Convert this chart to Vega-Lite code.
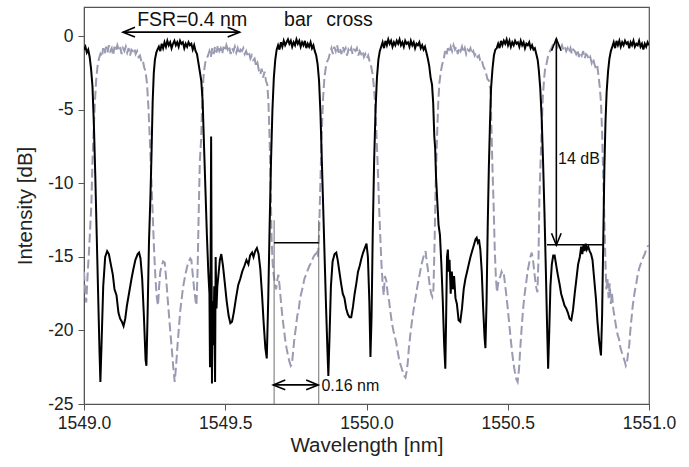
{
  "$schema": "https://vega.github.io/schema/vega-lite/v6.json",
  "width": 565,
  "height": 397,
  "autosize": {"type": "none"},
  "padding": {"left": 84, "top": 7, "right": 40, "bottom": 63},
  "background": "white",
  "config": {
    "font": "Liberation Sans",
    "view": {"stroke": "#555", "strokeWidth": 1.2},
    "axis": {"grid": false, "domainColor": "#555", "tickColor": "#555", "tickSize": 6, "labelFontSize": 17.5, "titleFontSize": 20.5, "labelColor": "#222", "titleColor": "#222", "titleFontWeight": "normal", "labelFont": "Liberation Sans", "titleFont": "Liberation Sans"}
  },
  "datasets": {
    "bar": [
      {"wl":1549.000,"dB":-0.9},{"wl":1549.005,"dB":-0.7},{"wl":1549.010,"dB":-1.1},{"wl":1549.015,"dB":-0.9},{"wl":1549.020,"dB":-1.4},{"wl":1549.025,"dB":-2.2},{"wl":1549.030,"dB":-3.4},{"wl":1549.035,"dB":-6},{"wl":1549.040,"dB":-9.5},{"wl":1549.045,"dB":-13.5},{"wl":1549.050,"dB":-17.5},{"wl":1549.055,"dB":-21.5},{"wl":1549.058,"dB":-23.5},{"wl":1549.062,"dB":-21},{"wl":1549.068,"dB":-17},{"wl":1549.075,"dB":-15},{"wl":1549.082,"dB":-14.6},{"wl":1549.088,"dB":-14.8},{"wl":1549.095,"dB":-15.5},{"wl":1549.102,"dB":-16.2},{"wl":1549.108,"dB":-17.2},{"wl":1549.115,"dB":-17.6},{"wl":1549.122,"dB":-18.8},{"wl":1549.128,"dB":-19.2},{"wl":1549.134,"dB":-19.4},{"wl":1549.140,"dB":-19.7},{"wl":1549.146,"dB":-19.2},{"wl":1549.152,"dB":-18.3},{"wl":1549.160,"dB":-17.4},{"wl":1549.168,"dB":-16.5},{"wl":1549.175,"dB":-15.8},{"wl":1549.182,"dB":-15.2},{"wl":1549.190,"dB":-14.8},{"wl":1549.195,"dB":-14.7},{"wl":1549.200,"dB":-15.1},{"wl":1549.206,"dB":-16.5},{"wl":1549.212,"dB":-19},{"wl":1549.218,"dB":-22},{"wl":1549.221,"dB":-22.4},{"wl":1549.225,"dB":-19},{"wl":1549.230,"dB":-14},{"wl":1549.235,"dB":-11},{"wl":1549.239,"dB":-8},{"wl":1549.243,"dB":-4.5},{"wl":1549.247,"dB":-2.5},{"wl":1549.251,"dB":-1.6},{"wl":1549.256,"dB":-1.1},
      {"wl":1549.260,"dB":-0.9},{"wl":1549.265,"dB":-0.7},{"wl":1549.270,"dB":-1.0},{"wl":1549.275,"dB":-0.5},{"wl":1549.280,"dB":-0.8},{"wl":1549.285,"dB":-0.4},{"wl":1549.290,"dB":-0.7},{"wl":1549.295,"dB":-0.3},{"wl":1549.300,"dB":-0.6},{"wl":1549.305,"dB":-0.4},{"wl":1549.310,"dB":-0.8},{"wl":1549.315,"dB":-0.5},{"wl":1549.320,"dB":-0.3},{"wl":1549.325,"dB":-0.6},{"wl":1549.330,"dB":-0.4},{"wl":1549.335,"dB":-0.7},{"wl":1549.340,"dB":-0.3},{"wl":1549.345,"dB":-0.5},{"wl":1549.350,"dB":-0.4},{"wl":1549.355,"dB":-0.8},{"wl":1549.360,"dB":-0.5},{"wl":1549.365,"dB":-0.7},{"wl":1549.370,"dB":-0.4},{"wl":1549.375,"dB":-0.6},{"wl":1549.380,"dB":-0.5},{"wl":1549.385,"dB":-0.9},{"wl":1549.390,"dB":-0.6},{"wl":1549.395,"dB":-1.0},{"wl":1549.400,"dB":-1.2},{"wl":1549.405,"dB":-1.8},{"wl":1549.410,"dB":-2.4},{"wl":1549.415,"dB":-3.0},{"wl":1549.420,"dB":-4.4},{"wl":1549.425,"dB":-7.5},{"wl":1549.430,"dB":-10.5},{"wl":1549.435,"dB":-13.5},{"wl":1549.440,"dB":-16},{"wl":1549.444,"dB":-17.5},{"wl":1549.446,"dB":-22.5},{"wl":1549.448,"dB":-16},{"wl":1549.450,"dB":-6.8},{"wl":1549.451,"dB":-12},{"wl":1549.453,"dB":-23.6},{"wl":1549.455,"dB":-18},{"wl":1549.458,"dB":-21},{"wl":1549.461,"dB":-17},{"wl":1549.464,"dB":-23.5},{"wl":1549.466,"dB":-15},{"wl":1549.469,"dB":-18.5},{"wl":1549.472,"dB":-17},{"wl":1549.476,"dB":-16.2},{"wl":1549.481,"dB":-15.2},{"wl":1549.486,"dB":-14.8},{"wl":1549.492,"dB":-15.6},{"wl":1549.498,"dB":-16.7},{"wl":1549.505,"dB":-18},{"wl":1549.512,"dB":-19},{"wl":1549.518,"dB":-19.5},{"wl":1549.524,"dB":-19.4},{"wl":1549.530,"dB":-18.8},{"wl":1549.538,"dB":-17.8},{"wl":1549.546,"dB":-16.9},{"wl":1549.553,"dB":-16.5},{"wl":1549.560,"dB":-16},{"wl":1549.568,"dB":-15.6},{"wl":1549.575,"dB":-15.2},{"wl":1549.582,"dB":-15.5},{"wl":1549.588,"dB":-14.9},{"wl":1549.595,"dB":-14.7},{"wl":1549.600,"dB":-15.0},{"wl":1549.606,"dB":-14.6},{"wl":1549.612,"dB":-14.4},{"wl":1549.618,"dB":-14.8},{"wl":1549.624,"dB":-15.8},{"wl":1549.630,"dB":-17.5},{"wl":1549.636,"dB":-19.5},{"wl":1549.642,"dB":-21.2},{"wl":1549.647,"dB":-21.9},{"wl":1549.652,"dB":-18},{"wl":1549.657,"dB":-13},{"wl":1549.662,"dB":-8.5},{"wl":1549.667,"dB":-5},{"wl":1549.672,"dB":-2.8},{"wl":1549.677,"dB":-1.6},{"wl":1549.682,"dB":-0.9},
      {"wl":1549.687,"dB":-0.6},{"wl":1549.692,"dB":-0.9},{"wl":1549.697,"dB":-0.4},{"wl":1549.702,"dB":-0.7},{"wl":1549.707,"dB":-0.3},{"wl":1549.712,"dB":-0.6},{"wl":1549.717,"dB":-0.4},{"wl":1549.722,"dB":-0.2},{"wl":1549.727,"dB":-0.5},{"wl":1549.732,"dB":-0.3},{"wl":1549.737,"dB":-0.7},{"wl":1549.742,"dB":-0.4},{"wl":1549.747,"dB":-0.6},{"wl":1549.752,"dB":-0.2},{"wl":1549.757,"dB":-0.5},{"wl":1549.762,"dB":-0.3},{"wl":1549.767,"dB":-0.7},{"wl":1549.772,"dB":-0.4},{"wl":1549.777,"dB":-0.6},{"wl":1549.782,"dB":-0.3},{"wl":1549.787,"dB":-0.8},{"wl":1549.792,"dB":-0.5},{"wl":1549.797,"dB":-0.7},{"wl":1549.802,"dB":-0.4},{"wl":1549.807,"dB":-0.8},{"wl":1549.812,"dB":-0.6},{"wl":1549.817,"dB":-1.0},{"wl":1549.822,"dB":-1.3},{"wl":1549.827,"dB":-1.9},{"wl":1549.832,"dB":-3},{"wl":1549.837,"dB":-5.2},{"wl":1549.842,"dB":-8.5},{"wl":1549.847,"dB":-11.8},{"wl":1549.852,"dB":-15.2},{"wl":1549.857,"dB":-18.5},{"wl":1549.862,"dB":-21.5},{"wl":1549.865,"dB":-23.1},{"wl":1549.869,"dB":-20.5},{"wl":1549.874,"dB":-17},{"wl":1549.880,"dB":-15.3},{"wl":1549.887,"dB":-14.8},{"wl":1549.893,"dB":-14.7},{"wl":1549.898,"dB":-15.2},{"wl":1549.904,"dB":-16},{"wl":1549.910,"dB":-16.8},{"wl":1549.916,"dB":-17.5},{"wl":1549.922,"dB":-17.8},{"wl":1549.928,"dB":-18.5},{"wl":1549.934,"dB":-18.9},{"wl":1549.940,"dB":-19.1},{"wl":1549.946,"dB":-19.1},{"wl":1549.952,"dB":-18.4},{"wl":1549.958,"dB":-17.5},{"wl":1549.964,"dB":-16.8},{"wl":1549.970,"dB":-16},{"wl":1549.976,"dB":-15.6},{"wl":1549.982,"dB":-15.1},{"wl":1549.988,"dB":-14.7},{"wl":1549.994,"dB":-14.4},{"wl":1550.000,"dB":-14.1},{"wl":1550.005,"dB":-15},{"wl":1550.010,"dB":-18},{"wl":1550.014,"dB":-21.8},{"wl":1550.018,"dB":-19},{"wl":1550.022,"dB":-13.5},{"wl":1550.027,"dB":-8.5},{"wl":1550.032,"dB":-5},{"wl":1550.037,"dB":-2.8},{"wl":1550.042,"dB":-1.6},{"wl":1550.047,"dB":-1.0},
      {"wl":1550.052,"dB":-0.7},{"wl":1550.057,"dB":-0.4},{"wl":1550.062,"dB":-0.8},{"wl":1550.067,"dB":-0.3},{"wl":1550.072,"dB":-0.6},{"wl":1550.077,"dB":-0.2},{"wl":1550.082,"dB":-0.5},{"wl":1550.087,"dB":-0.3},{"wl":1550.092,"dB":-0.7},{"wl":1550.097,"dB":-0.4},{"wl":1550.102,"dB":-0.6},{"wl":1550.107,"dB":-0.3},{"wl":1550.112,"dB":-0.5},{"wl":1550.117,"dB":-0.2},{"wl":1550.122,"dB":-0.6},{"wl":1550.127,"dB":-0.4},{"wl":1550.132,"dB":-0.7},{"wl":1550.137,"dB":-0.3},{"wl":1550.142,"dB":-0.5},{"wl":1550.147,"dB":-0.4},{"wl":1550.152,"dB":-0.7},{"wl":1550.157,"dB":-0.3},{"wl":1550.162,"dB":-0.6},{"wl":1550.167,"dB":-0.4},{"wl":1550.172,"dB":-0.8},{"wl":1550.177,"dB":-0.5},{"wl":1550.182,"dB":-0.6},{"wl":1550.187,"dB":-0.4},{"wl":1550.192,"dB":-0.8},{"wl":1550.197,"dB":-0.6},{"wl":1550.202,"dB":-0.9},{"wl":1550.207,"dB":-0.7},{"wl":1550.212,"dB":-1.1},{"wl":1550.217,"dB":-1.5},{"wl":1550.222,"dB":-2.0},{"wl":1550.227,"dB":-2.8},{"wl":1550.232,"dB":-3.3},{"wl":1550.236,"dB":-4.5},{"wl":1550.240,"dB":-6.8},{"wl":1550.243,"dB":-7.6},{"wl":1550.246,"dB":-9.5},{"wl":1550.250,"dB":-11},{"wl":1550.255,"dB":-12.8},{"wl":1550.260,"dB":-13.5},{"wl":1550.265,"dB":-15.5},{"wl":1550.270,"dB":-18},{"wl":1550.275,"dB":-21},{"wl":1550.279,"dB":-22.6},{"wl":1550.282,"dB":-19},{"wl":1550.285,"dB":-15},{"wl":1550.288,"dB":-14.5},{"wl":1550.291,"dB":-16},{"wl":1550.294,"dB":-15.2},{"wl":1550.298,"dB":-17.5},{"wl":1550.302,"dB":-16},{"wl":1550.306,"dB":-17.2},{"wl":1550.310,"dB":-16.3},{"wl":1550.315,"dB":-17.8},{"wl":1550.320,"dB":-18.2},{"wl":1550.326,"dB":-19.3},{"wl":1550.332,"dB":-19.4},{"wl":1550.338,"dB":-18.5},{"wl":1550.344,"dB":-17.2},{"wl":1550.350,"dB":-16.5},{"wl":1550.356,"dB":-16},{"wl":1550.362,"dB":-15.5},{"wl":1550.368,"dB":-15},{"wl":1550.374,"dB":-14.6},{"wl":1550.380,"dB":-14.2},{"wl":1550.386,"dB":-13.8},{"wl":1550.390,"dB":-13.7},{"wl":1550.394,"dB":-14},{"wl":1550.398,"dB":-13.8},{"wl":1550.403,"dB":-14.5},{"wl":1550.408,"dB":-16},{"wl":1550.413,"dB":-18.5},{"wl":1550.418,"dB":-20.5},{"wl":1550.421,"dB":-21.2},{"wl":1550.425,"dB":-18},{"wl":1550.429,"dB":-13},{"wl":1550.433,"dB":-9},{"wl":1550.437,"dB":-6},{"wl":1550.441,"dB":-3.5},{"wl":1550.446,"dB":-2.2},{"wl":1550.451,"dB":-1.3},{"wl":1550.456,"dB":-0.9},{"wl":1550.461,"dB":-0.8},
      {"wl":1550.466,"dB":-0.5},{"wl":1550.471,"dB":-0.8},{"wl":1550.476,"dB":-0.3},{"wl":1550.481,"dB":-0.6},{"wl":1550.486,"dB":-0.3},{"wl":1550.491,"dB":-0.5},{"wl":1550.496,"dB":-0.2},{"wl":1550.501,"dB":-0.6},{"wl":1550.506,"dB":-0.3},{"wl":1550.511,"dB":-0.7},{"wl":1550.516,"dB":-0.4},{"wl":1550.521,"dB":-0.6},{"wl":1550.526,"dB":-0.3},{"wl":1550.531,"dB":-0.5},{"wl":1550.536,"dB":-0.4},{"wl":1550.541,"dB":-0.7},{"wl":1550.546,"dB":-0.3},{"wl":1550.551,"dB":-0.6},{"wl":1550.556,"dB":-0.4},{"wl":1550.561,"dB":-0.8},{"wl":1550.566,"dB":-0.5},{"wl":1550.571,"dB":-0.6},{"wl":1550.576,"dB":-0.4},{"wl":1550.581,"dB":-0.8},{"wl":1550.586,"dB":-0.6},{"wl":1550.591,"dB":-0.9},{"wl":1550.596,"dB":-0.8},{"wl":1550.601,"dB":-1.2},{"wl":1550.606,"dB":-1.6},{"wl":1550.610,"dB":-2.3},{"wl":1550.615,"dB":-3.5},{"wl":1550.620,"dB":-5.5},{"wl":1550.625,"dB":-8.5},{"wl":1550.630,"dB":-12},{"wl":1550.635,"dB":-16},{"wl":1550.639,"dB":-19.5},{"wl":1550.643,"dB":-22.6},{"wl":1550.647,"dB":-20},{"wl":1550.651,"dB":-17},{"wl":1550.656,"dB":-15.5},{"wl":1550.661,"dB":-14.9},{"wl":1550.666,"dB":-14.9},{"wl":1550.671,"dB":-15.5},{"wl":1550.677,"dB":-16.2},{"wl":1550.683,"dB":-16.8},{"wl":1550.689,"dB":-17.5},{"wl":1550.695,"dB":-17.9},{"wl":1550.701,"dB":-18.3},{"wl":1550.707,"dB":-18.5},{"wl":1550.713,"dB":-18.8},{"wl":1550.719,"dB":-19.2},{"wl":1550.725,"dB":-19.3},{"wl":1550.731,"dB":-18.6},{"wl":1550.737,"dB":-17.5},{"wl":1550.743,"dB":-16.5},{"wl":1550.749,"dB":-15.5},{"wl":1550.755,"dB":-15},{"wl":1550.760,"dB":-14.3},{"wl":1550.764,"dB":-14.8},{"wl":1550.768,"dB":-14.2},{"wl":1550.772,"dB":-14.6},{"wl":1550.776,"dB":-14.1},{"wl":1550.780,"dB":-14.5},{"wl":1550.785,"dB":-14.3},{"wl":1550.790,"dB":-14.6},{"wl":1550.795,"dB":-14.8},{"wl":1550.800,"dB":-15.2},{"wl":1550.806,"dB":-16.5},{"wl":1550.812,"dB":-17.8},{"wl":1550.818,"dB":-19.5},{"wl":1550.824,"dB":-20.8},{"wl":1550.830,"dB":-21.7},{"wl":1550.834,"dB":-19},{"wl":1550.838,"dB":-14},{"wl":1550.842,"dB":-9},{"wl":1550.846,"dB":-5.8},{"wl":1550.850,"dB":-3.8},{"wl":1550.855,"dB":-2.4},{"wl":1550.860,"dB":-1.5},{"wl":1550.865,"dB":-1.0},
      {"wl":1550.870,"dB":-0.7},{"wl":1550.875,"dB":-0.4},{"wl":1550.880,"dB":-0.8},{"wl":1550.885,"dB":-0.3},{"wl":1550.890,"dB":-0.6},{"wl":1550.895,"dB":-0.3},{"wl":1550.900,"dB":-0.7},{"wl":1550.905,"dB":-0.4},{"wl":1550.910,"dB":-0.6},{"wl":1550.915,"dB":-0.3},{"wl":1550.920,"dB":-0.5},{"wl":1550.925,"dB":-0.4},{"wl":1550.930,"dB":-0.8},{"wl":1550.935,"dB":-0.4},{"wl":1550.940,"dB":-0.6},{"wl":1550.945,"dB":-0.3},{"wl":1550.950,"dB":-0.7},{"wl":1550.955,"dB":-0.5},{"wl":1550.960,"dB":-0.6},{"wl":1550.965,"dB":-0.3},{"wl":1550.970,"dB":-0.7},{"wl":1550.975,"dB":-0.5},{"wl":1550.980,"dB":-0.9},{"wl":1550.985,"dB":-0.5},{"wl":1550.990,"dB":-0.7},{"wl":1550.995,"dB":-0.4},{"wl":1551.000,"dB":-0.6}
    ],
    "cross": [
      {"wl":1549.000,"dB":-16.0},{"wl":1549.004,"dB":-17.2},{"wl":1549.008,"dB":-18.1},{"wl":1549.012,"dB":-16.5},{"wl":1549.018,"dB":-14.5},{"wl":1549.022,"dB":-13},{"wl":1549.026,"dB":-11.5},{"wl":1549.030,"dB":-8.5},{"wl":1549.034,"dB":-6.5},{"wl":1549.038,"dB":-4.7},{"wl":1549.043,"dB":-3.0},{"wl":1549.048,"dB":-2.0},{"wl":1549.053,"dB":-1.5},{"wl":1549.058,"dB":-1.2},
      {"wl":1549.063,"dB":-1.4},{"wl":1549.068,"dB":-0.8},{"wl":1549.073,"dB":-1.2},{"wl":1549.078,"dB":-0.7},{"wl":1549.083,"dB":-1.1},{"wl":1549.088,"dB":-0.6},{"wl":1549.093,"dB":-1.0},{"wl":1549.098,"dB":-0.8},{"wl":1549.103,"dB":-1.3},{"wl":1549.108,"dB":-0.7},{"wl":1549.113,"dB":-1.0},{"wl":1549.118,"dB":-0.6},{"wl":1549.123,"dB":-0.9},{"wl":1549.128,"dB":-0.7},{"wl":1549.133,"dB":-1.2},{"wl":1549.138,"dB":-0.8},{"wl":1549.143,"dB":-1.0},{"wl":1549.148,"dB":-0.7},{"wl":1549.153,"dB":-1.1},{"wl":1549.158,"dB":-0.8},{"wl":1549.163,"dB":-1.3},{"wl":1549.168,"dB":-0.9},{"wl":1549.173,"dB":-1.0},{"wl":1549.178,"dB":-0.8},{"wl":1549.183,"dB":-1.2},{"wl":1549.188,"dB":-1.0},{"wl":1549.193,"dB":-1.4},{"wl":1549.198,"dB":-1.3},{"wl":1549.203,"dB":-1.7},{"wl":1549.208,"dB":-1.6},{"wl":1549.213,"dB":-2.1},{"wl":1549.218,"dB":-2.4},{"wl":1549.223,"dB":-3.2},{"wl":1549.228,"dB":-4.8},{"wl":1549.233,"dB":-7},{"wl":1549.238,"dB":-9.5},{"wl":1549.243,"dB":-12},{"wl":1549.248,"dB":-14.5},{"wl":1549.253,"dB":-16.5},{"wl":1549.258,"dB":-17.8},{"wl":1549.262,"dB":-18.3},{"wl":1549.266,"dB":-17},{"wl":1549.270,"dB":-16},{"wl":1549.275,"dB":-15.6},{"wl":1549.280,"dB":-15.3},{"wl":1549.286,"dB":-15.4},{"wl":1549.291,"dB":-16.5},{"wl":1549.296,"dB":-17.8},{"wl":1549.301,"dB":-19},{"wl":1549.306,"dB":-20.2},{"wl":1549.311,"dB":-21.3},{"wl":1549.316,"dB":-22.5},{"wl":1549.321,"dB":-23.5},{"wl":1549.326,"dB":-22.4},{"wl":1549.331,"dB":-21},{"wl":1549.336,"dB":-19.8},{"wl":1549.341,"dB":-18.6},{"wl":1549.346,"dB":-17.8},{"wl":1549.351,"dB":-17},{"wl":1549.356,"dB":-16.5},{"wl":1549.361,"dB":-16},{"wl":1549.366,"dB":-15.6},{"wl":1549.371,"dB":-15.3},{"wl":1549.376,"dB":-15.1},{"wl":1549.380,"dB":-15.2},{"wl":1549.385,"dB":-16.2},{"wl":1549.390,"dB":-17.2},{"wl":1549.395,"dB":-18},{"wl":1549.398,"dB":-18.3},{"wl":1549.402,"dB":-16},{"wl":1549.406,"dB":-12},{"wl":1549.410,"dB":-8.5},{"wl":1549.415,"dB":-6.9},{"wl":1549.419,"dB":-4.0},{"wl":1549.424,"dB":-2.5},{"wl":1549.429,"dB":-1.8},{"wl":1549.434,"dB":-1.5},{"wl":1549.439,"dB":-1.3},
      {"wl":1549.444,"dB":-1.0},{"wl":1549.449,"dB":-1.4},{"wl":1549.454,"dB":-0.8},{"wl":1549.459,"dB":-1.2},{"wl":1549.464,"dB":-0.7},{"wl":1549.469,"dB":-1.1},{"wl":1549.474,"dB":-0.6},{"wl":1549.479,"dB":-1.0},{"wl":1549.484,"dB":-0.8},{"wl":1549.489,"dB":-1.2},{"wl":1549.494,"dB":-0.7},{"wl":1549.499,"dB":-1.0},{"wl":1549.504,"dB":-0.6},{"wl":1549.509,"dB":-0.9},{"wl":1549.514,"dB":-0.7},{"wl":1549.519,"dB":-1.2},{"wl":1549.524,"dB":-0.8},{"wl":1549.529,"dB":-1.0},{"wl":1549.534,"dB":-0.7},{"wl":1549.539,"dB":-1.1},{"wl":1549.544,"dB":-0.8},{"wl":1549.549,"dB":-1.2},{"wl":1549.554,"dB":-0.9},{"wl":1549.559,"dB":-1.0},{"wl":1549.564,"dB":-0.8},{"wl":1549.569,"dB":-1.2},{"wl":1549.574,"dB":-1.0},{"wl":1549.579,"dB":-1.3},{"wl":1549.584,"dB":-1.1},{"wl":1549.589,"dB":-1.5},{"wl":1549.594,"dB":-1.3},{"wl":1549.599,"dB":-1.6},{"wl":1549.604,"dB":-1.5},{"wl":1549.609,"dB":-2.0},{"wl":1549.614,"dB":-1.8},{"wl":1549.619,"dB":-2.3},{"wl":1549.624,"dB":-2.6},{"wl":1549.629,"dB":-2.2},{"wl":1549.634,"dB":-2.8},{"wl":1549.639,"dB":-2.4},{"wl":1549.644,"dB":-3.0},{"wl":1549.649,"dB":-3.3},{"wl":1549.653,"dB":-4.5},{"wl":1549.657,"dB":-7},{"wl":1549.661,"dB":-10.5},{"wl":1549.664,"dB":-13.7},{"wl":1549.668,"dB":-15.5},{"wl":1549.672,"dB":-16.3},{"wl":1549.676,"dB":-16.8},{"wl":1549.680,"dB":-17.2},{"wl":1549.684,"dB":-16.6},{"wl":1549.688,"dB":-16.2},{"wl":1549.692,"dB":-16.9},{"wl":1549.697,"dB":-18},{"wl":1549.702,"dB":-19},{"wl":1549.707,"dB":-19.8},{"wl":1549.712,"dB":-20.6},{"wl":1549.717,"dB":-21.2},{"wl":1549.722,"dB":-21.7},{"wl":1549.727,"dB":-22.1},{"wl":1549.732,"dB":-22.4},{"wl":1549.736,"dB":-22.3},{"wl":1549.740,"dB":-21.5},{"wl":1549.745,"dB":-20.5},{"wl":1549.750,"dB":-19.8},{"wl":1549.755,"dB":-19},{"wl":1549.760,"dB":-18.6},{"wl":1549.765,"dB":-17.8},{"wl":1549.770,"dB":-17.4},{"wl":1549.775,"dB":-17},{"wl":1549.780,"dB":-16.5},{"wl":1549.786,"dB":-16.2},{"wl":1549.792,"dB":-15.9},{"wl":1549.798,"dB":-15.6},{"wl":1549.804,"dB":-15.4},{"wl":1549.810,"dB":-15.1},{"wl":1549.815,"dB":-14.9},{"wl":1549.820,"dB":-14.8},{"wl":1549.824,"dB":-14.7},{"wl":1549.828,"dB":-15.0},{"wl":1549.832,"dB":-13.5},{"wl":1549.836,"dB":-10.5},{"wl":1549.841,"dB":-6.9},{"wl":1549.846,"dB":-4.3},{"wl":1549.851,"dB":-2.8},{"wl":1549.856,"dB":-2.1},{"wl":1549.861,"dB":-1.7},{"wl":1549.866,"dB":-1.5},
      {"wl":1549.871,"dB":-1.1},{"wl":1549.876,"dB":-0.8},{"wl":1549.881,"dB":-1.2},{"wl":1549.886,"dB":-0.7},{"wl":1549.891,"dB":-1.0},{"wl":1549.896,"dB":-0.6},{"wl":1549.901,"dB":-1.1},{"wl":1549.906,"dB":-0.8},{"wl":1549.911,"dB":-1.2},{"wl":1549.916,"dB":-0.7},{"wl":1549.921,"dB":-1.0},{"wl":1549.926,"dB":-0.8},{"wl":1549.931,"dB":-1.3},{"wl":1549.936,"dB":-0.9},{"wl":1549.941,"dB":-1.1},{"wl":1549.946,"dB":-0.8},{"wl":1549.951,"dB":-1.2},{"wl":1549.956,"dB":-0.9},{"wl":1549.961,"dB":-1.0},{"wl":1549.966,"dB":-0.8},{"wl":1549.971,"dB":-1.3},{"wl":1549.976,"dB":-1.0},{"wl":1549.981,"dB":-1.2},{"wl":1549.986,"dB":-1.0},{"wl":1549.991,"dB":-1.4},{"wl":1549.996,"dB":-1.2},{"wl":1550.001,"dB":-1.5},{"wl":1550.006,"dB":-1.3},{"wl":1550.011,"dB":-1.7},{"wl":1550.016,"dB":-2.0},{"wl":1550.021,"dB":-2.5},{"wl":1550.026,"dB":-3.4},{"wl":1550.031,"dB":-4.7},{"wl":1550.036,"dB":-7},{"wl":1550.041,"dB":-9.5},{"wl":1550.045,"dB":-11.8},{"wl":1550.049,"dB":-13.7},{"wl":1550.053,"dB":-15.5},{"wl":1550.057,"dB":-16.8},{"wl":1550.061,"dB":-17.6},{"wl":1550.065,"dB":-16.3},{"wl":1550.070,"dB":-16.6},{"wl":1550.075,"dB":-17.5},{"wl":1550.080,"dB":-18},{"wl":1550.085,"dB":-18.8},{"wl":1550.090,"dB":-19.5},{"wl":1550.095,"dB":-20},{"wl":1550.100,"dB":-20.4},{"wl":1550.105,"dB":-20.8},{"wl":1550.110,"dB":-21.4},{"wl":1550.115,"dB":-21.9},{"wl":1550.120,"dB":-22.3},{"wl":1550.125,"dB":-22.6},{"wl":1550.130,"dB":-22.9},{"wl":1550.134,"dB":-23.1},{"wl":1550.138,"dB":-23.2},{"wl":1550.142,"dB":-22.8},{"wl":1550.146,"dB":-22.2},{"wl":1550.150,"dB":-21.2},{"wl":1550.155,"dB":-20.3},{"wl":1550.160,"dB":-19.5},{"wl":1550.165,"dB":-18.8},{"wl":1550.170,"dB":-18.2},{"wl":1550.175,"dB":-17.6},{"wl":1550.180,"dB":-17},{"wl":1550.185,"dB":-16.5},{"wl":1550.190,"dB":-16},{"wl":1550.195,"dB":-15.5},{"wl":1550.200,"dB":-15.1},{"wl":1550.205,"dB":-14.8},{"wl":1550.209,"dB":-14.6},{"wl":1550.213,"dB":-15.3},{"wl":1550.217,"dB":-15.8},{"wl":1550.221,"dB":-16.5},{"wl":1550.225,"dB":-17.1},{"wl":1550.229,"dB":-17.5},{"wl":1550.233,"dB":-17.7},{"wl":1550.237,"dB":-17.2},{"wl":1550.241,"dB":-14},{"wl":1550.245,"dB":-10},{"wl":1550.2496,"dB":-6.9},{"wl":1550.254,"dB":-4.5},{"wl":1550.258,"dB":-3.2},{"wl":1550.263,"dB":-2.4},{"wl":1550.268,"dB":-1.9},{"wl":1550.273,"dB":-1.6},
      {"wl":1550.278,"dB":-1.0},{"wl":1550.283,"dB":-1.3},{"wl":1550.288,"dB":-0.8},{"wl":1550.293,"dB":-1.1},{"wl":1550.298,"dB":-0.7},{"wl":1550.303,"dB":-1.0},{"wl":1550.308,"dB":-0.6},{"wl":1550.313,"dB":-0.9},{"wl":1550.318,"dB":-0.7},{"wl":1550.323,"dB":-1.2},{"wl":1550.328,"dB":-0.8},{"wl":1550.333,"dB":-1.0},{"wl":1550.338,"dB":-0.7},{"wl":1550.343,"dB":-1.1},{"wl":1550.348,"dB":-0.8},{"wl":1550.353,"dB":-1.2},{"wl":1550.358,"dB":-0.9},{"wl":1550.363,"dB":-1.0},{"wl":1550.368,"dB":-0.8},{"wl":1550.373,"dB":-1.2},{"wl":1550.378,"dB":-1.0},{"wl":1550.383,"dB":-1.3},{"wl":1550.388,"dB":-1.1},{"wl":1550.393,"dB":-1.4},{"wl":1550.398,"dB":-1.3},{"wl":1550.403,"dB":-1.7},{"wl":1550.408,"dB":-1.6},{"wl":1550.413,"dB":-2.0},{"wl":1550.418,"dB":-2.2},{"wl":1550.423,"dB":-2.5},{"wl":1550.428,"dB":-2.9},{"wl":1550.433,"dB":-3.0},{"wl":1550.4386,"dB":-3.6},{"wl":1550.442,"dB":-6},{"wl":1550.446,"dB":-9},{"wl":1550.450,"dB":-11.5},{"wl":1550.454,"dB":-14.5},{"wl":1550.458,"dB":-16.4},{"wl":1550.462,"dB":-17.4},{"wl":1550.466,"dB":-16.8},{"wl":1550.470,"dB":-16.5},{"wl":1550.474,"dB":-16.3},{"wl":1550.478,"dB":-16},{"wl":1550.482,"dB":-16.2},{"wl":1550.486,"dB":-16.1},{"wl":1550.490,"dB":-16.8},{"wl":1550.495,"dB":-17.6},{"wl":1550.500,"dB":-18.5},{"wl":1550.505,"dB":-19.5},{"wl":1550.510,"dB":-20.5},{"wl":1550.515,"dB":-21.4},{"wl":1550.520,"dB":-22.2},{"wl":1550.525,"dB":-22.8},{"wl":1550.530,"dB":-23.3},{"wl":1550.535,"dB":-23.5},{"wl":1550.540,"dB":-22.6},{"wl":1550.545,"dB":-21},{"wl":1550.550,"dB":-19.6},{"wl":1550.555,"dB":-18.4},{"wl":1550.560,"dB":-17.5},{"wl":1550.565,"dB":-16.8},{"wl":1550.570,"dB":-16},{"wl":1550.575,"dB":-15.5},{"wl":1550.580,"dB":-15},{"wl":1550.585,"dB":-14.7},{"wl":1550.590,"dB":-15.3},{"wl":1550.595,"dB":-16.2},{"wl":1550.600,"dB":-17},{"wl":1550.605,"dB":-17.4},{"wl":1550.609,"dB":-15},{"wl":1550.612,"dB":-11},{"wl":1550.619,"dB":-6.9},{"wl":1550.624,"dB":-4.2},{"wl":1550.629,"dB":-2.8},{"wl":1550.633,"dB":-2.1},{"wl":1550.637,"dB":-1.9},
      {"wl":1550.642,"dB":-1.4},{"wl":1550.647,"dB":-1.1},{"wl":1550.652,"dB":-0.9},{"wl":1550.657,"dB":-0.7},{"wl":1550.662,"dB":-0.5},{"wl":1550.667,"dB":-0.6},{"wl":1550.672,"dB":-0.4},{"wl":1550.677,"dB":-0.7},{"wl":1550.682,"dB":-0.5},{"wl":1550.687,"dB":-0.8},{"wl":1550.692,"dB":-0.6},{"wl":1550.697,"dB":-0.9},{"wl":1550.702,"dB":-0.7},{"wl":1550.707,"dB":-1.0},{"wl":1550.712,"dB":-0.8},{"wl":1550.717,"dB":-1.1},{"wl":1550.722,"dB":-0.8},{"wl":1550.727,"dB":-1.2},{"wl":1550.732,"dB":-0.9},{"wl":1550.737,"dB":-1.0},{"wl":1550.742,"dB":-1.2},{"wl":1550.747,"dB":-0.9},{"wl":1550.752,"dB":-1.4},{"wl":1550.757,"dB":-1.1},{"wl":1550.762,"dB":-1.3},{"wl":1550.767,"dB":-1.0},{"wl":1550.772,"dB":-1.5},{"wl":1550.777,"dB":-1.2},{"wl":1550.782,"dB":-1.3},{"wl":1550.787,"dB":-1.6},{"wl":1550.792,"dB":-1.4},{"wl":1550.797,"dB":-1.8},{"wl":1550.802,"dB":-1.5},{"wl":1550.807,"dB":-1.9},{"wl":1550.812,"dB":-2.2},{"wl":1550.817,"dB":-2.0},{"wl":1550.822,"dB":-2.8},{"wl":1550.826,"dB":-3.5},{"wl":1550.830,"dB":-4.5},{"wl":1550.834,"dB":-6.5},{"wl":1550.838,"dB":-9.5},{"wl":1550.842,"dB":-12.5},{"wl":1550.846,"dB":-15.5},{"wl":1550.849,"dB":-17.2},{"wl":1550.853,"dB":-16.5},{"wl":1550.857,"dB":-17.8},{"wl":1550.861,"dB":-16.8},{"wl":1550.865,"dB":-18.2},{"wl":1550.869,"dB":-17.5},{"wl":1550.874,"dB":-18.6},{"wl":1550.879,"dB":-19.2},{"wl":1550.884,"dB":-19.8},{"wl":1550.889,"dB":-20.3},{"wl":1550.894,"dB":-20.6},{"wl":1550.899,"dB":-21.2},{"wl":1550.904,"dB":-21.5},{"wl":1550.909,"dB":-21.8},{"wl":1550.914,"dB":-22.1},{"wl":1550.918,"dB":-22.4},{"wl":1550.922,"dB":-22.2},{"wl":1550.926,"dB":-21.5},{"wl":1550.930,"dB":-21.0},{"wl":1550.934,"dB":-20},{"wl":1550.938,"dB":-19.2},{"wl":1550.942,"dB":-18.4},{"wl":1550.946,"dB":-17.8},{"wl":1550.950,"dB":-17.3},{"wl":1550.955,"dB":-16.8},{"wl":1550.960,"dB":-16.2},{"wl":1550.965,"dB":-15.8},{"wl":1550.970,"dB":-15.5},{"wl":1550.975,"dB":-15.3},{"wl":1550.980,"dB":-15.0},{"wl":1550.985,"dB":-14.8},{"wl":1550.990,"dB":-14.5},{"wl":1550.995,"dB":-14.3},{"wl":1551.000,"dB":-14.2}
    ],
    "blackRules": [
      {"wl":1549.138,"wl2":1549.551,"dB":0.29,"dB2":0.29},
      {"wl":1549.670,"wl2":1549.829,"dB":-23.7,"dB2":-23.7},
      {"wl":1550.672,"wl2":1550.672,"dB":-0.16,"dB2":-14.2},
      {"wl":1549.673,"wl2":1549.831,"dB":-14.03,"dB2":-14.03},
      {"wl":1550.639,"wl2":1550.837,"dB":-14.17,"dB2":-14.17}
    ],
    "grayRules": [
      {"wl":1549.673,"wl2":1549.673,"dB":-12.5,"dB2":-25},
      {"wl":1549.831,"wl2":1549.831,"dB":-12.5,"dB2":-25}
    ],
    "heads": [
      {"wl":1549.138,"dB":0.29,"dir":"left"},
      {"wl":1549.551,"dB":0.29,"dir":"right"},
      {"wl":1549.670,"dB":-23.7,"dir":"left"},
      {"wl":1549.829,"dB":-23.7,"dir":"right"},
      {"wl":1550.672,"dB":-0.16,"dir":"up"},
      {"wl":1550.672,"dB":-14.2,"dir":"down"}
    ],
    "topLabels": [
      {"wl":1549.383,"dB":0.72,"label":"FSR=0.4 nm"},
      {"wl":1549.758,"dB":0.72,"label":"bar"},
      {"wl":1549.940,"dB":0.72,"label":"cross"}
    ],
    "noteLabels": [
      {"wl":1549.8404,"dB":-23.8,"label":"0.16 nm"},
      {"wl":1550.678,"dB":-8.35,"label":"14 dB"}
    ]
  },
  "layer": [
    {
      "data": {"name": "cross"},
      "mark": {"type": "line", "color": "#9a9ab2", "strokeWidth": 2, "strokeDash": [9, 4], "clip": true},
      "encoding": {
        "x": {"field": "wl", "type": "quantitative", "scale": {"domain": [1549, 1551], "nice": false, "zero": false},
              "axis": {"title": "Wavelength [nm]", "values": [1549, 1549.5, 1550, 1550.5, 1551], "format": ".1f", "labelPadding": 4, "titlePadding": 4, "labelFlush": false}},
        "y": {"field": "dB", "type": "quantitative", "scale": {"domain": [-25, 2], "nice": false, "zero": false},
              "axis": {"title": "Intensity [dB]", "values": [-25, -20, -15, -10, -5, 0], "labelExpr": "datum.value < 0 ? '-' + format(-datum.value, 'd') : format(datum.value, 'd')", "labelPadding": 5, "titlePadding": 12}}
      }
    },
    {
      "data": {"name": "bar"},
      "mark": {"type": "line", "color": "#000000", "strokeWidth": 2, "clip": true},
      "encoding": {
        "x": {"field": "wl", "type": "quantitative", "axis": {"title": "Wavelength [nm]"}},
        "y": {"field": "dB", "type": "quantitative", "axis": {"title": "Intensity [dB]"}}
      }
    },
    {
      "data": {"name": "grayRules"},
      "mark": {"type": "rule", "color": "#707070", "strokeWidth": 1},
      "encoding": {
        "x": {"field": "wl", "type": "quantitative", "axis": {"title": "Wavelength [nm]"}},
        "x2": {"field": "wl2"},
        "y": {"field": "dB", "type": "quantitative", "axis": {"title": "Intensity [dB]"}},
        "y2": {"field": "dB2"}
      }
    },
    {
      "data": {"name": "blackRules"},
      "mark": {"type": "rule", "color": "#000000", "strokeWidth": 1.6},
      "encoding": {
        "x": {"field": "wl", "type": "quantitative", "axis": {"title": "Wavelength [nm]"}},
        "x2": {"field": "wl2"},
        "y": {"field": "dB", "type": "quantitative", "axis": {"title": "Intensity [dB]"}},
        "y2": {"field": "dB2"}
      }
    },
    {
      "data": {"name": "heads"},
      "mark": {"type": "point", "filled": false, "color": "#000000", "strokeWidth": 1.6, "size": 144, "opacity": 1},
      "encoding": {
        "x": {"field": "wl", "type": "quantitative", "axis": {"title": "Wavelength [nm]"}},
        "y": {"field": "dB", "type": "quantitative", "axis": {"title": "Intensity [dB]"}},
        "shape": {"field": "dir", "type": "nominal", "legend": null,
                  "scale": {"domain": ["left", "right", "up", "down"], "range": ["M2,-0.8L0,0L2,0.8", "M-2,-0.8L0,0L-2,0.8", "M-0.8,2L0,0L0.8,2", "M-0.8,-2L0,0L0.8,-2"]}}
      }
    },
    {
      "data": {"name": "topLabels"},
      "mark": {"type": "text", "align": "center", "baseline": "alphabetic", "fontSize": 19.5, "color": "#111", "font": "Liberation Sans"},
      "encoding": {
        "x": {"field": "wl", "type": "quantitative", "axis": {"title": "Wavelength [nm]"}},
        "y": {"field": "dB", "type": "quantitative", "axis": {"title": "Intensity [dB]"}},
        "text": {"field": "label"}
      }
    },
    {
      "data": {"name": "noteLabels"},
      "mark": {"type": "text", "align": "left", "baseline": "middle", "fontSize": 16, "color": "#111", "font": "Liberation Sans"},
      "encoding": {
        "x": {"field": "wl", "type": "quantitative", "axis": {"title": "Wavelength [nm]"}},
        "y": {"field": "dB", "type": "quantitative", "axis": {"title": "Intensity [dB]"}},
        "text": {"field": "label"}
      }
    }
  ]
}
